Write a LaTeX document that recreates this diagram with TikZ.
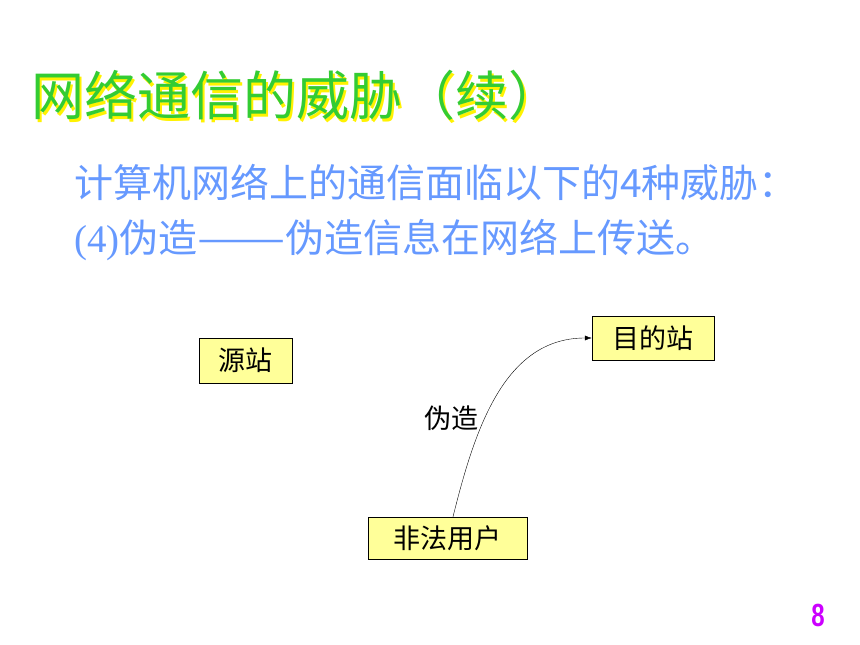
\documentclass[tikz,border=0pt]{standalone}
\usepackage{fontspec}
\usepackage{graphicx}
\usetikzlibrary{arrows.meta}
\setmainfont{Noto Sans CJK SC}
\newfontfamily\latinserif{Liberation Serif}
\newfontfamily\latinsans{Liberation Sans}
\definecolor{titlegreen}{RGB}{51,204,51}
\definecolor{textblue}{RGB}{102,153,255}
\definecolor{boxyellow}{RGB}{255,255,153}
\definecolor{pagepurple}{RGB}{204,0,255}
\tikzset{station/.style={draw, thin, fill=boxyellow, inner sep=0pt, font=\fontsize{27}{31}\selectfont}}
\begin{document}
\begin{tikzpicture}[x=1pt, y=1pt] % forgery
  \useasboundingbox[fill=white] (0,0) rectangle (860,645);
  \node[anchor=base west, inner sep=0pt, yellow, font=\fontsize{53}{58}\selectfont] (titleshadow) at (33.5,526.5) {网络通信的威胁（续）};
  \node[anchor=base west, inner sep=0pt, titlegreen, font=\fontsize{53}{58}\selectfont] (title) at (31,529) {网络通信的威胁（续）};
  \node[anchor=base west, textblue, inner sep=0pt, font=\fontsize{39}{44}\selectfont] (line1) at (74,447) {计算机网络上的通信面临以下的4种威胁：};
  \node[anchor=base west, textblue, inner sep=0pt, font=\fontsize{39}{44}\selectfont] (line2) at (74,392) {{\latinserif (4)}伪造\scalebox{1.35}[1]{——}伪造信息在网络上传送。};
  \node[station, minimum width=93pt, minimum height=45pt] (source) at (245.5,284.5) {源站};
  \node[station, minimum width=122pt, minimum height=44pt] (dest) at (653,307) {目的站};
  \node[station, minimum width=159pt, minimum height=42pt] (intruder) at (447.5,107) {非法用户};
  \draw[-{Latex[length=7pt, width=5pt]}] ([xshift=5.5pt]intruder.north) to[out=76, in=180] (dest.west);
  \node[font=\fontsize{27}{31}\selectfont] (forge) at (451,227) {伪造};
  \node[pagepurple, font=\latinsans\bfseries\fontsize{32}{36}\selectfont, xscale=0.75] (page) at (818,30) {8};
\end{tikzpicture}
\end{document}
